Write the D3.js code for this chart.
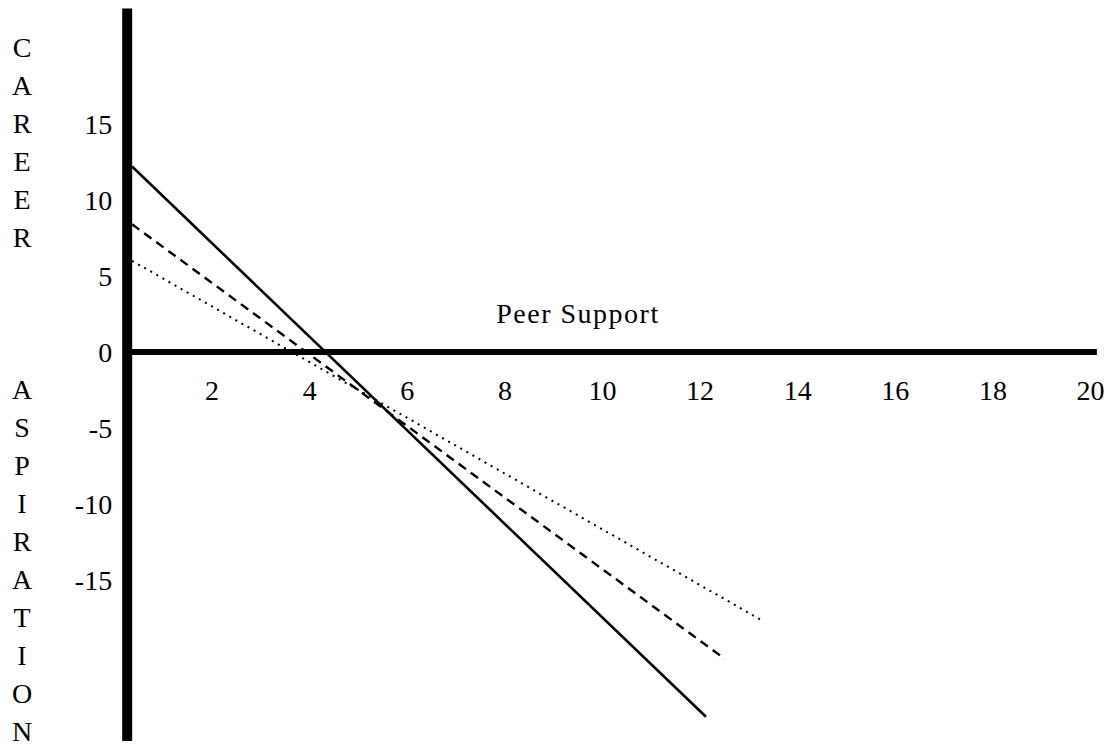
<!DOCTYPE html>
<html>
<head>
<meta charset="utf-8">
<script src="https://cdn.jsdelivr.net/npm/d3@7/dist/d3.min.js"></script>
<style>
  html, body { margin: 0; padding: 0; background: #fff; }
  svg text { font-family: "Liberation Serif", "Times New Roman", serif; fill: #000; }
</style>
</head>
<body>
<svg id="chart" width="1115" height="747"></svg>
<script>
// ---- data ----
const xTickValues = [2, 4, 6, 8, 10, 12, 14, 16, 18, 20];
const yTickValues = [15, 10, 5, 0, -5, -10, -15];
const seriesNames = ["solid", "dashed", "dotted"];
// [peer support, career aspiration] endpoints
const solidLine  = [[0.37, 12.2], [12.13, -24.0]];
const dashedLine = [[0.37, 8.4],  [12.52, -20.2]];
const dottedLine = [[0.37, 6.0],  [13.30, -17.7]];
const xLabel = "Peer Support";
const yLabelLetters = ["C","A","R","E","E","R","","","","A","S","P","I","R","A","T","I","O","N"];
const xExtent = [0.27, 20.14];   // drawn extent of horizontal axis
const yExtent = [-25.6, 22.6];   // drawn extent of vertical axis

// ---- layout ----
const svg = d3.select("#chart");
const x = d3.scaleLinear().domain([0, 20]).range([114, 1090]);
const y = d3.scaleLinear().domain([0, 15]).range([352, 124]);
const fmt = d => String(d);  // plain hyphen for negatives, as in the original

// tick labels
const gx = svg.append("g")
  .attr("transform", `translate(0,${y(0)})`)
  .call(d3.axisBottom(x).tickValues(xTickValues).tickSize(0).tickPadding(28).tickFormat(fmt));
gx.select(".domain").remove();
gx.selectAll("text").attr("font-size", 28).attr("font-family", "Liberation Serif");

const gy = svg.append("g")
  .attr("transform", `translate(${x(xExtent[0])},0)`)
  .call(d3.axisLeft(y).tickValues(yTickValues).tickSize(0).tickPadding(15).tickFormat(fmt));
gy.select(".domain").remove();
gy.selectAll("text").attr("font-size", 28).attr("font-family", "Liberation Serif").attr("dy", "0.34em");

// thick axis lines
svg.append("line")
  .attr("x1", x(xExtent[0])).attr("x2", x(xExtent[1]))
  .attr("y1", y(0)).attr("y2", y(0))
  .attr("stroke", "#000").attr("stroke-width", 6);
svg.append("line")
  .attr("x1", x(xExtent[0])).attr("x2", x(xExtent[0]))
  .attr("y1", y(yExtent[1])).attr("y2", y(yExtent[0]))
  .attr("stroke", "#000").attr("stroke-width", 10);

// series lines
const lineGen = d3.line().x(d => x(d[0])).y(d => y(d[1]));
const series = [
  { name: seriesNames[0], data: solidLine,  dash: null,   width: 2.6 },
  { name: seriesNames[1], data: dashedLine, dash: "9,6",  width: 2.4 },
  { name: seriesNames[2], data: dottedLine, dash: "2,5",  width: 2 }
];
svg.append("g").selectAll("path").data(series).join("path")
  .attr("d", d => lineGen(d.data))
  .attr("fill", "none")
  .attr("stroke", "#000")
  .attr("stroke-width", d => d.width)
  .attr("stroke-dasharray", d => d.dash);

// x axis title
svg.append("text")
  .attr("x", 578).attr("y", 323)
  .attr("text-anchor", "middle")
  .attr("font-size", 28)
  .attr("letter-spacing", 1.5)
  .text(xLabel);

// vertical y axis title, one letter per line
svg.append("g").selectAll("text").data(yLabelLetters).join("text")
  .attr("x", 22)
  .attr("y", (d, i) => 47 + 38 * i)
  .attr("dy", "0.35em")
  .attr("text-anchor", "middle")
  .attr("font-size", 28)
  .text(d => d);
</script>
</body>
</html>
